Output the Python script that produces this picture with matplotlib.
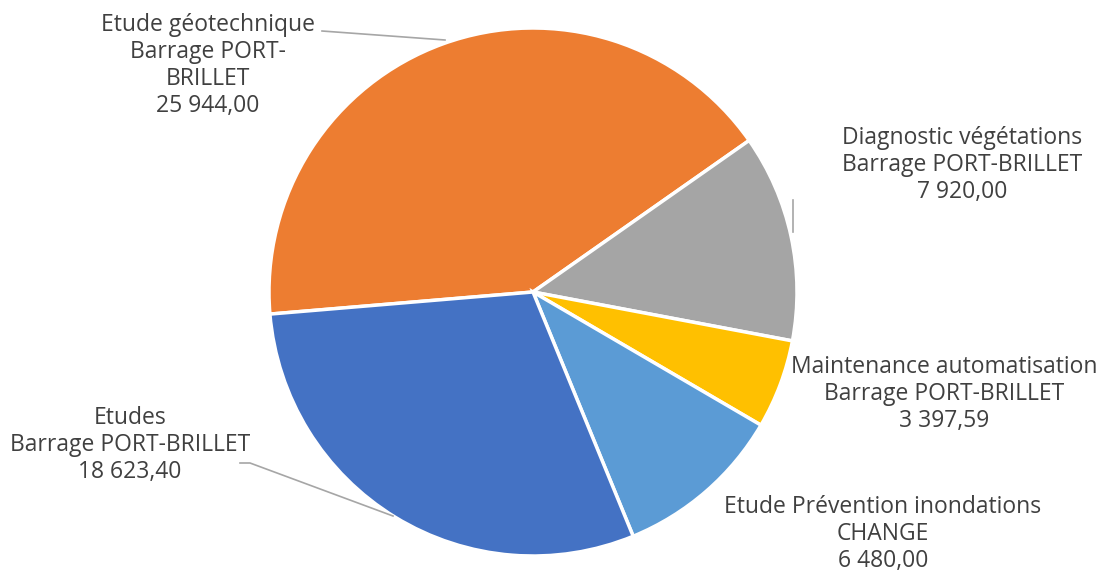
import matplotlib
matplotlib.use("Agg")
import matplotlib.pyplot as plt

categories = [
    "Etude géotechnique\nBarrage PORT-\nBRILLET",
    "Diagnostic végétations\nBarrage PORT-BRILLET",
    "Maintenance automatisation\nBarrage PORT-BRILLET",
    "Etude Prévention inondations\nCHANGE",
    "Etudes\nBarrage PORT-BRILLET",
]
values = [25944.00, 7920.00, 3397.59, 6480.00, 18623.40]
value_labels = ["25 944,00", "7 920,00", "3 397,59", "6 480,00", "18 623,40"]
colors = ["#ED7D31", "#A5A5A5", "#FFC000", "#5B9BD5", "#4472C4"]

W, H = 1104, 572
fig = plt.figure(figsize=(W / 100, H / 100), dpi=100)
ax = fig.add_axes([0, 0, 1, 1])

cx, cy, r = 533, H - 292, 264
ax.pie(values, colors=colors, startangle=184.8, counterclock=False,
       center=(cx, cy), radius=r, frame=True,
       wedgeprops=dict(edgecolor="white", linewidth=2.5))
ax.set_xlim(0, W)
ax.set_ylim(0, H)
ax.set_aspect("equal")
ax.axis("off")

# label positions (pixel coords, top-left origin): center x, first-line center y
label_pos = [(208, 25), (962, 138), (944, 367), (883, 507), (130, 418)]
line_h = 27
for cat, vl, (x, y) in zip(categories, value_labels, label_pos):
    txt = cat + "\n" + vl
    n = txt.count("\n") + 1
    yc = y + (n - 1) * line_h / 2
    ax.text(x, H - yc, txt, ha="center", va="center", fontsize=16.5,
            family="Open Sans", color="#404040", linespacing=1.18)

lc = "#A6A6A6"
ax.plot([322, 445], [H - 31, H - 40], color=lc, lw=1.2)
ax.plot([793, 793], [H - 200, H - 232], color=lc, lw=1.2)
ax.plot([240, 250, 393], [H - 463, H - 463, H - 516], color=lc, lw=1.2)

fig.savefig("out.png", dpi=100)
